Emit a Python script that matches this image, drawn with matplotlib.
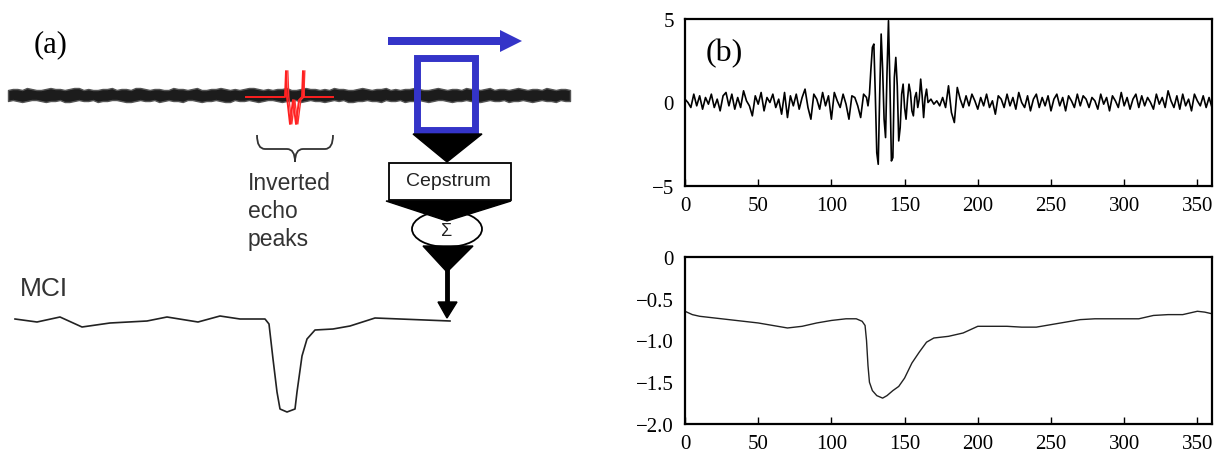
import numpy as np
import matplotlib
matplotlib.use("Agg")
import matplotlib.pyplot as plt
from matplotlib.patches import Polygon, Rectangle, Ellipse, PathPatch, FancyArrow
from matplotlib.path import Path

# --- panel (b), top: echo signal (quiet / burst / quiet pieces) ---
sig_quiet1 = [0.2, 0.0, -0.3, 0.5, -0.2, 0.4, -0.4, 0.3, -0.1, 0.5,
              -0.3, 0.2, -0.5, 0.4, 0.6, -0.2, 0.5, -0.4, 0.3, -0.3,
              0.7, 0.1, -0.2, -0.8, 0.4, -0.1, 0.6, -0.5, 0.3, 0.0,
              0.5, -0.3, 0.2, -0.7, 0.6, -0.9, 0.4, -0.2, 0.5, -0.4,
              0.3, 0.8, -0.3, -1.0, 0.5, 0.2, -0.4, 0.6, -0.2, 0.4,
              -1.0, 0.6, 0.1, -0.3, 0.5, -0.1, -1.0, 0.4, 0.3, -0.2,
              -0.9, 0.5, 0.3]
sig_burst = [-0.2, 0.5, 2.0, 3.3, 3.5, 0.5, -3.0, -3.7, 0.5, 4.1,
             2.0, -1.0, -2.1, 1.8, 4.9, 1.0, -3.5, -3.3, 1.5, 2.7,
             1.0, -2.3, -1.5, 0.5, 1.1, -0.3, -1.0, 0.2, 1.1, 0.6,
             -0.5, -0.8, 0.3, 0.6, -0.3, 0.2, 1.4, 0.4, -0.9, 0.3, 0.8]
sig_quiet2 = [0.0, 0.2, -0.1, 0.1, -0.2, 0.3, -0.3, 1.0, -0.6, -1.2,
              0.9, 0.2, -0.3, 0.4, -0.2, 0.5, 0.1, -0.4, 0.3, -0.2,
              0.5, -0.3, 0.1, -0.7, 0.4, 0.2, -0.3, 0.5, -0.2, 0.3,
              -0.4, 0.6, 0.0, -0.3, 0.4, -0.5, 0.2, 0.5, -0.3, 0.3,
              -0.2, 0.4, -0.5, 0.2, 0.5, -0.2, 0.3, -0.5, 0.4, 0.1,
              -0.3, 0.5, -0.2, 0.4, 0.2, -0.3, 0.3, 0.1, -0.4, 0.5,
              -0.1, 0.3, -0.5, 0.4, 0.1, -0.3, 0.6, -0.2, 0.3, -0.4,
              0.2, 0.5, -0.3, 0.4, -0.2, 0.3, 0.0, -0.4, 0.5, -0.1,
              0.3, -0.3, 0.7, 0.1, -0.3, 0.4, -0.4, 0.5, -0.2, 0.2,
              -0.5, 0.5, 0.1, -0.2, 0.4, -0.3, 0.3, -0.3]

# --- panel (b), bottom: MCI curve ---
mci_x = [0, 5, 10, 20, 30, 40, 50, 60, 70, 80, 90, 100, 110, 117, 121, 123,
         124, 125, 126, 128, 131, 135, 138, 142, 146, 150, 155, 160, 165,
         170, 180, 190, 195, 200, 210, 220, 230, 240, 250, 260, 270, 280,
         290, 300, 310, 320, 330, 340, 350, 355, 360]
mci_y = [-0.65, -0.69, -0.71, -0.73, -0.75, -0.77, -0.79, -0.82, -0.85, -0.83,
         -0.79, -0.76, -0.74, -0.74, -0.77, -0.82, -1.0, -1.3, -1.5, -1.6,
         -1.66, -1.69, -1.66, -1.6, -1.55, -1.45, -1.27, -1.14, -1.02, -0.97,
         -0.95, -0.91, -0.87, -0.83, -0.83, -0.83, -0.84, -0.84, -0.81, -0.78,
         -0.75, -0.74, -0.74, -0.74, -0.74, -0.70, -0.69, -0.69, -0.65, -0.66,
         -0.68]

# --- panel (a) sketch traces (pixel space of the figure) ---
band_top = [-5, -6, -6, -5, -7, -6, -5, -5, -6, -7, -6, -6, -5, -6, -7,
            -7, -5, -6, -5, -5, -6, -6, -7, -5, -6, -6, -5, -7, -7, -6,
            -5, -6, -6, -5, -5, -7, -6, -6, -5, -6, -7, -5, -5, -6, -6,
            -7, -6, -5, -6, -5, -6, -7, -7, -6, -5, -6, -5, -6, -6, -7,
            -5, -5, -6, -7, -6, -6, -5, -6, -5, -7, -6, -6, -5, -5, -6,
            -7, -6, -5, -6, -6, -7, -5, -6, -5, -6, -6, -7, -6, -5, -5,
            -6, -7, -6, -5, -6, -6, -5, -7, -6, -6, -5, -6, -7, -5, -6,
            -6, -5, -6, -7, -6, -5, -6, -6, -5, -7, -6, -5, -6, -6, -5]
band_bot = [6, 5, 6, 7, 6, 5, 5, 6, 7, 6, 6, 5, 7, 7, 6, 5, 6, 6, 5, 7,
            6, 6, 5, 5, 6, 7, 7, 6, 5, 6, 6, 5, 7, 6, 5, 6, 6, 7, 5, 5,
            6, 7, 6, 6, 5, 6, 7, 7, 5, 6, 6, 5, 6, 7, 6, 5, 5, 6, 7, 6,
            6, 5, 7, 6, 5, 6, 6, 7, 6, 5, 6, 5, 7, 7, 6, 6, 5, 6, 6, 7,
            5, 6, 6, 5, 7, 6, 6, 5, 6, 7, 6, 5, 5, 6, 7, 6, 6, 5, 6, 7,
            7, 6, 5, 6, 6, 5, 7, 6, 6, 5, 6, 7, 6, 5, 6, 6, 7, 5, 6, 6]
echo_x = [246, 285, 286, 287, 290, 293, 296, 299, 302, 303, 304, 333]
echo_y = [98, 98, 72, 98, 125, 101, 125, 101, 98, 72, 98, 98]
sketch_mci_x = [15, 37, 60, 82, 110, 147, 167, 198, 220, 240, 265, 269, 273,
                277, 280, 287, 295, 297, 302, 307, 315, 333, 350, 375, 400, 450]
sketch_mci_y = [320, 323, 318, 328, 324, 322, 318, 323, 317, 320, 320, 325,
                360, 393, 410, 413, 410, 393, 357, 340, 331, 330, 327, 319,
                320, 322]

W, H = 1224, 460
fig = plt.figure(figsize=(W / 100, H / 100), dpi=100)
serif = "Liberation Serif"
sans = "Liberation Sans"

# ---------- panel (a): schematic in pixel coordinates ----------
axa = fig.add_axes([0, 0, 1, 1])
axa.set_xlim(0, W)
axa.set_ylim(H, 0)
axa.axis("off")

bx = np.linspace(8, 570, len(band_top))
axa.fill_between(bx, 96 + np.array(band_top), 96 + np.array(band_bot),
                 facecolor="#1c1c1c", lw=1.0, edgecolor="#555555")
axa.plot(echo_x, echo_y, color="#ff2020", lw=1.4, zorder=3)
axa.plot(np.array(echo_x[2:-2]) + 1.8, echo_y[2:-2], color="#ff3030", lw=1.0, zorder=3)

brace = Path([(257, 136), (257, 150), (265, 150), (287, 150), (295, 150), (295, 163),
              (333, 136), (333, 150), (325, 150), (303, 150), (295, 150), (295, 163)],
             [Path.MOVETO, Path.CURVE3, Path.CURVE3, Path.LINETO, Path.CURVE3, Path.CURVE3,
              Path.MOVETO, Path.CURVE3, Path.CURVE3, Path.LINETO, Path.CURVE3, Path.CURVE3])
axa.add_patch(PathPatch(brace, fill=False, color="#333333", lw=1.3))

for i, word in enumerate(["Inverted", "echo", "peaks"]):
    axa.text(248, 184 + i * 28, word, family=sans, fontsize=16.5, color="#333333",
             va="center", ha="left")

blue = "#3434c8"
axa.add_patch(FancyArrow(388, 42, 112, 0, width=8, head_width=22, head_length=22,
                         length_includes_head=False, color=blue, lw=0))
axa.add_patch(Rectangle((417, 59), 58, 72, fill=False, edgecolor=blue, lw=5, zorder=4))

axa.add_patch(Polygon([(413, 135), (482, 135), (447, 163)], color="black", zorder=4))
axa.add_patch(Rectangle((389, 164), 122, 37, facecolor="white", edgecolor="black", lw=1.3, zorder=4))
axa.text(448, 182, "Cepstrum", family=sans, fontsize=14, color="#222222",
         ha="center", va="center", zorder=5)
axa.add_patch(Ellipse((447, 230), 70, 36, facecolor="white", edgecolor="black", lw=1.3, zorder=4))
axa.add_patch(Polygon([(386, 202), (511, 202), (447, 222)], color="black", zorder=5))
axa.text(447, 232, "Σ", family=sans, fontsize=13, color="#222222",
         ha="center", va="center", zorder=5)
axa.add_patch(Polygon([(423, 247), (473, 247), (447, 273)], color="black", zorder=5))
axa.plot([447, 447], [270, 305], color="black", lw=3.5, zorder=5)
axa.add_patch(Polygon([(438, 303), (457, 303), (447, 319)], color="black", zorder=5))

axa.plot(sketch_mci_x, sketch_mci_y, color="#222222", lw=1.2)
axa.text(20, 289, "MCI", family=sans, fontsize=19, color="#333333", va="center")
axa.text(34, 45, "(a)", family=serif, fontsize=22, color="black", va="center")


def style_axes(ax):
    for s in ax.spines.values():
        s.set_linewidth(1.6)
    ax.tick_params(axis="x", direction="in", length=5, width=1, top=False,
                   labelsize=15, pad=7)
    ax.tick_params(axis="y", length=0, labelsize=15, pad=8)
    for lab in ax.get_xticklabels() + ax.get_yticklabels():
        lab.set_family(serif)
    ax.set_xlim(0, 360)
    ax.set_xticks([0, 50, 100, 150, 200, 250, 300, 350])


# ---------- panel (b), top ----------
axt = fig.add_axes([685 / W, 1 - 187 / H, 527 / W, 167 / H])
xq1 = 2 * np.arange(len(sig_quiet1))
xb = 125 + np.arange(len(sig_burst))
xq2 = 166 + 2 * np.arange(len(sig_quiet2))
sx = np.concatenate([xq1, xb, xq2])
sy = np.concatenate([sig_quiet1, sig_burst, sig_quiet2])
axt.plot(sx, sy, color="black", lw=1.2)
axt.set_ylim(-5, 5)
axt.set_yticks([5, 0, -5])
axt.set_yticklabels(["5", "0", "\u22125"])
style_axes(axt)
axt.text(0.04, 0.8, "(b)", transform=axt.transAxes, family=serif, fontsize=23,
         va="center")

# ---------- panel (b), bottom ----------
axb = fig.add_axes([685 / W, 1 - 425 / H, 527 / W, 167 / H])
axb.plot(mci_x, mci_y, color="#222222", lw=1.0)
axb.set_ylim(-2.0, 0)
axb.set_yticks([0, -0.5, -1.0, -1.5, -2.0])
axb.set_yticklabels(["0", "\u22120.5", "\u22121.0", "\u22121.5", "\u22122.0"])
style_axes(axb)

fig.savefig("out.png", dpi=100)
